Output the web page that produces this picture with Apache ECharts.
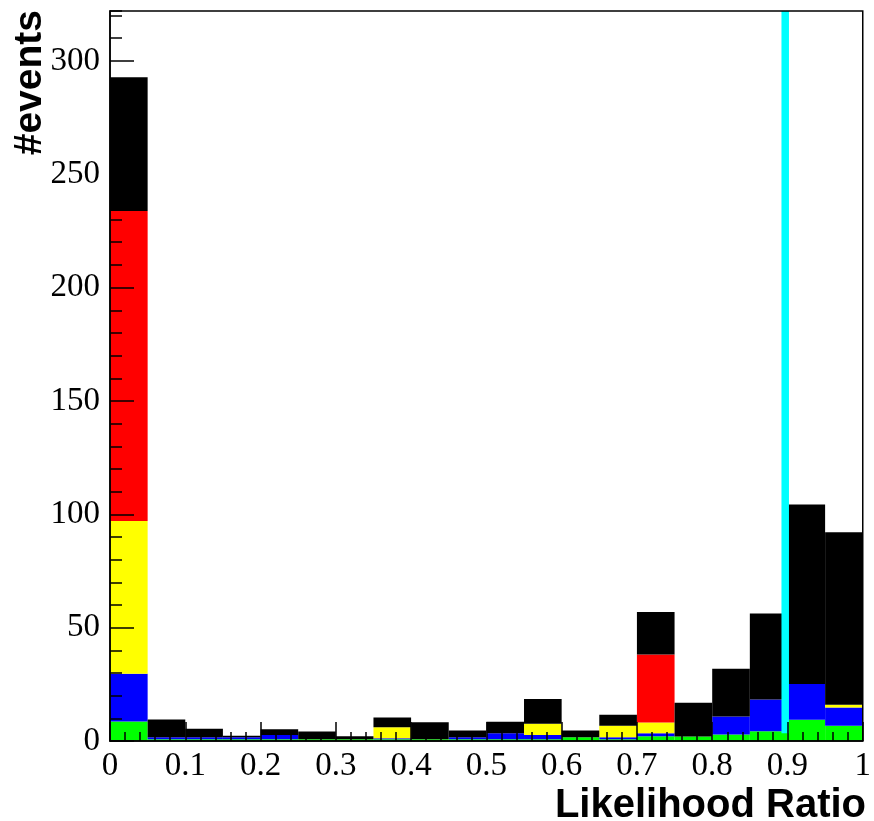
<!DOCTYPE html>
<html>
<head>
<meta charset="utf-8">
<script src="https://cdn.jsdelivr.net/npm/echarts@6/dist/echarts.min.js"></script>
<style>html,body{margin:0;padding:0;background:#fff;}#c{width:874px;height:821px;}</style>
</head>
<body>
<div id="c"></div>
<script>
// 20 bins of width 0.05 from 0 to 1 (labels are bin centres)
const bins = ['0.025','0.075','0.125','0.175','0.225','0.275','0.325','0.375','0.425','0.475',
              '0.525','0.575','0.625','0.675','0.725','0.775','0.825','0.875','0.925','0.975'];
// stacked components, bottom to top
const green  = [8.6,0.8,0.8,0.8,0.8,0.8,0.8,0.8,0.8,0.8,0.8,0.8,1.7,0.8,2.1,2.0,2.9,4.3,9.4,6.7];
const blue   = [21.1,0.9,0.9,0.9,1.8,0,0,0.4,0,0.9,2.6,1.8,0,0.9,1.3,0,7.9,14.0,15.7,8.1];
const yellow = [67.3,0,0,0,0,0,0,4.9,0,0,0,5.0,0,5.0,4.8,0,0,0,0,1.2];
const red    = [136.8,0,0,0,0,0,0,0,0,0,0,0,0,0,30.0,0,0,0,0,0];
const black  = [59.0,7.8,3.7,0.6,2.6,3.4,1.3,4.3,7.5,2.9,5.1,10.9,2.9,4.9,18.7,14.9,21.1,37.9,79.2,76.1];
// vertical cut line
const cutLine = [[0.897, 3.4], [0.897, 322]];
const yMax = 322;

const chart = echarts.init(document.getElementById('c'), null, {renderer: 'canvas'});
const serif = 'Liberation Serif';
function barSeries(name, data, color) {
  return {
    name: name, type: 'bar', stack: 'h', data: data,
    xAxisIndex: 0, yAxisIndex: 0,
    barCategoryGap: '0%', barGap: '0%',
    itemStyle: {color: color},
    emphasis: {disabled: true},
    animation: false, z: 2
  };
}
chart.setOption({
  animation: false,
  grid: {left: 110, right: 8, top: 11, bottom: 80, show: true, borderColor: '#000', borderWidth: 1.5, backgroundColor: 'transparent', z: 10},
  xAxis: [
    {type: 'category', data: bins, show: false, gridIndex: 0},
    {type: 'value', min: 0, max: 1, interval: 0.1, position: 'bottom', z: 10,
     axisLine: {show: true, onZero: false, lineStyle: {color: '#000', width: 1.5}},
     axisTick: {show: true, inside: true, length: 19, lineStyle: {color: '#000', width: 1.5}},
     minorTick: {show: true, splitNumber: 5, length: 9, lineStyle: {color: '#000', width: 1.5}},
     splitLine: {show: false},
     axisLabel: {color: '#000', fontFamily: serif, fontSize: 33, margin: 9,
       formatter: v => (Math.round(v * 10) / 10).toString()}}
  ],
  yAxis: [
    {type: 'value', min: 0, max: yMax, interval: 50, position: 'left', z: 10,
     axisLine: {show: true, onZero: false, lineStyle: {color: '#000', width: 1.5}},
     axisTick: {show: true, inside: true, length: 24, lineStyle: {color: '#000', width: 1.5}},
     splitLine: {show: false},
     axisLabel: {color: '#000', fontFamily: serif, fontSize: 33, margin: 10, showMaxLabel: false}},
    {type: 'value', min: 0, max: yMax, interval: 10, position: 'left', z: 10,
     axisLine: {show: false},
     axisTick: {show: true, inside: true, length: 12, lineStyle: {color: '#000', width: 1.5}},
     splitLine: {show: false},
     axisLabel: {show: false}}
  ],
  series: [
    barSeries('green', green, '#00ff00'),
    barSeries('blue', blue, '#0000ff'),
    barSeries('yellow', yellow, '#ffff00'),
    barSeries('red', red, '#ff0000'),
    barSeries('black', black, '#000000'),
    {type: 'line', xAxisIndex: 1, yAxisIndex: 0, data: cutLine, symbol: 'none',
     lineStyle: {color: '#00ffff', width: 7.5}, z: 5, silent: true, animation: false}
  ],
  graphic: [
    {type: 'text', x: 30, y: 10, rotation: Math.PI / 2,
     style: {text: '#events', font: 'bold 39px "Liberation Sans"', fill: '#000', align: 'right', verticalAlign: 'middle'}},
    {type: 'text', x: 866, y: 806,
     style: {text: 'Likelihood Ratio', font: 'bold 40px "Liberation Sans"', fill: '#000', align: 'right', verticalAlign: 'middle'}}
  ]
});
</script>
</body>
</html>
